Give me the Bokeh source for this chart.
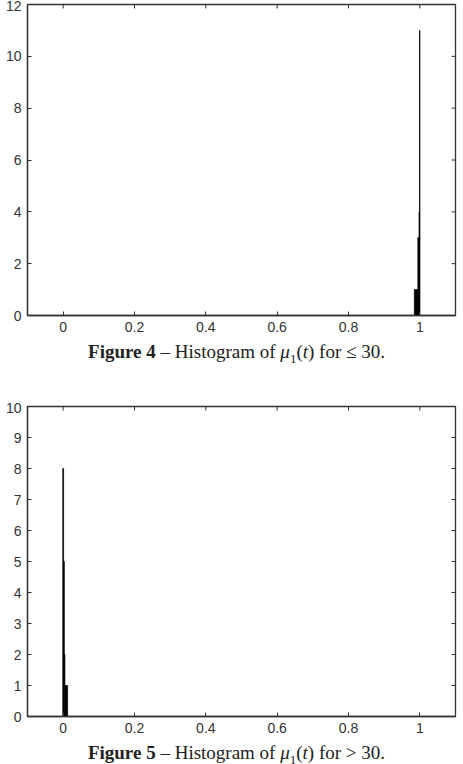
from bokeh.plotting import figure
from bokeh.models import Range1d, FixedTicker, Div, ColumnDataSource
from bokeh.layouts import column
from bokeh.embed import file_html
from bokeh.resources import INLINE

# Figure 4 histogram (mu_1(t) for <= 30)
top_left = [0.9846, 0.9944, 0.9978, 0.9990]
top_right = [0.9944, 0.9978, 0.9990, 1.0004]
top_counts = [1, 3, 4, 11]

# Figure 5 histogram (mu_1(t) for > 30)
bot_left = [-0.0012, 0.0012, 0.0032, 0.0050]
bot_right = [0.0012, 0.0032, 0.0050, 0.0125]
bot_counts = [8, 5, 2, 1]

x_ticks = [0, 0.2, 0.4, 0.6, 0.8, 1]
y_ticks_top = [0, 2, 4, 6, 8, 10, 12]
y_ticks_bot = [0, 1, 2, 3, 4, 5, 6, 7, 8, 9, 10]

caption4 = '<b>Figure 4</b> &ndash; Histogram of <i>&mu;</i><sub style="font-size:13px">1</sub>(<i>t</i>) for &le; 30.'
caption5 = '<b>Figure 5</b> &ndash; Histogram of <i>&mu;</i><sub style="font-size:13px">1</sub>(<i>t</i>) for &gt; 30.'

AX = "#333333"
FONT = "Liberation Sans"
XMIN, XMAX = -0.1, 1.1
TICK_PX = 4


def make_hist(left, right, counts, ymax, yticks, height):
    p = figure(width=463, height=height, output_backend="svg", toolbar_location=None,
               x_range=Range1d(XMIN, XMAX), y_range=Range1d(0, ymax),
               min_border_left=27, min_border_right=8, min_border_top=4, min_border_bottom=21)
    p.xgrid.visible = False
    p.ygrid.visible = False
    p.outline_line_color = AX
    p.outline_line_width = 1.3
    src = ColumnDataSource(dict(left=left, right=right, top=counts, bottom=[0] * len(counts)))
    p.quad(left="left", right="right", top="top", bottom="bottom", source=src,
           fill_color="black", line_color="black", line_width=0.7)

    for ax, ticks in ((p.xaxis[0], x_ticks), (p.yaxis[0], yticks)):
        ax.ticker = FixedTicker(ticks=ticks)
        ax.major_tick_in = TICK_PX
        ax.major_tick_out = 0
        ax.minor_tick_line_color = None
        ax.axis_line_color = AX
        ax.axis_line_width = 1.3
        ax.major_tick_line_color = AX
        ax.major_label_text_font = FONT
        ax.major_label_text_font_size = "14px"
        ax.major_label_text_color = "#333333"
        ax.major_label_standoff = 6
    p.xaxis[0].major_label_overrides = {0: "0", 1: "1"}

    # mirrored inward ticks on the top and right frame edges
    frame_w = 463 - 27 - 8
    frame_h = height - 4 - 21
    dy = TICK_PX * ymax / frame_h
    dx = TICK_PX * (XMAX - XMIN) / frame_w
    p.segment(x0=x_ticks, y0=[ymax] * len(x_ticks), x1=x_ticks,
              y1=[ymax - dy] * len(x_ticks), line_color=AX, line_width=1)
    p.segment(x0=[XMAX] * len(yticks), y0=yticks, x1=[XMAX - dx] * len(yticks),
              y1=yticks, line_color=AX, line_width=1)
    return p


p1 = make_hist(top_left, top_right, top_counts, 12, y_ticks_top, 336)
p2 = make_hist(bot_left, bot_right, bot_counts, 10, y_ticks_bot, 335)

div_style = {"font-family": "Liberation Serif", "font-size": "19px", "color": "#222222",
             "text-align": "center", "width": "463px", "padding-top": "1px",
             "line-height": "20px"}
d1 = Div(text=caption4, width=463, height=56, styles=div_style)
d2 = Div(text=caption5, width=463, height=24, styles=div_style)

layout = column(p1, d1, p2, d2, spacing=0)

open("out.html", "w").write(file_html(layout, INLINE))
